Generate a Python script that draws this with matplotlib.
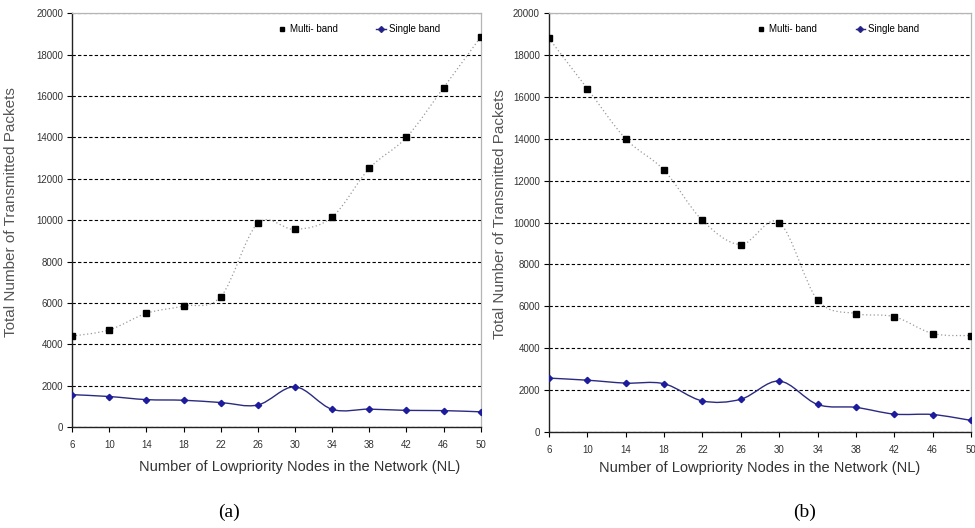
import matplotlib
matplotlib.use("Agg")
import matplotlib.pyplot as plt
from matplotlib.path import Path
from matplotlib.patches import PathPatch
from matplotlib.lines import Line2D
import numpy as np

plt.rcParams["font.family"] = ["Liberation Sans", "DejaVu Sans"]

NL = [6, 10, 14, 18, 22, 26, 30, 34, 38, 42, 46, 50]

# panel (a)
MULTI_A = [4400, 4700, 5500, 5850, 6300, 9850, 9550, 10150, 12500, 14000, 16400, 18850]
SINGLE_A = [1570, 1480, 1330, 1300, 1190, 1070, 1950, 860, 870, 810, 800, 740]
# panel (b)
MULTI_B = [18800, 16400, 14000, 12500, 10100, 8950, 10000, 6300, 5650, 5500, 4700, 4600]
SINGLE_B = [2570, 2470, 2330, 2300, 1480, 1560, 2430, 1310, 1170, 850, 830, 550]

YTICKS = list(range(0, 20001, 2000))


def smooth_path(x, y):
    # Catmull-Rom through the points, written as cubic Bezier segments
    p = np.column_stack([x, y]).astype(float)
    pts = np.vstack([p[0], p, p[-1]])
    verts = [tuple(p[0])]
    codes = [Path.MOVETO]
    for i in range(1, len(pts) - 2):
        p0, p1, p2, p3 = pts[i - 1], pts[i], pts[i + 1], pts[i + 2]
        c1 = p1 + (p2 - p0) / 6.0
        c2 = p2 - (p3 - p1) / 6.0
        verts += [tuple(c1), tuple(c2), tuple(p2)]
        codes += [Path.CURVE4] * 3
    return Path(verts, codes)


def draw_panel(ax, multi, single, legend_x, ylab_x, xlab_pos):
    xs = np.arange(len(NL))
    ax.add_patch(PathPatch(smooth_path(xs, multi), fill=False, ec="#9a9a9a",
                           lw=0.9, ls=(0, (1, 2)), zorder=2))
    ax.plot(xs, multi, ls="none", marker="s", ms=4, color="black", zorder=4)
    ax.add_patch(PathPatch(smooth_path(xs, single), fill=False, ec="#2a2a80",
                           lw=1.0, zorder=3))
    ax.plot(xs, single, ls="none", marker="D", ms=3.2, color="#1c1c9c", zorder=4)

    ax.set_xlim(0, len(NL) - 1)
    ax.set_ylim(0, 20000)
    ax.set_xticks(xs)
    ax.set_xticklabels([str(v) for v in NL], fontsize=7, color="#333333")
    ax.set_yticks(YTICKS)
    ax.set_yticklabels([str(v) for v in YTICKS], fontsize=7, color="#333333")
    ax.tick_params(axis="both", length=3.5, width=0.8)
    ax.tick_params(axis="x", pad=6)
    ax.tick_params(axis="y", pad=3)
    ax.yaxis.grid(True, color="black", ls=(0, (3, 2)), lw=0.8)
    ax.set_axisbelow(True)
    for s in ("left", "bottom"):
        ax.spines[s].set_color("#222222")
        ax.spines[s].set_linewidth(1.0)
    for s in ("top", "right"):
        ax.spines[s].set_color("#b5b5b5")
        ax.spines[s].set_linewidth(0.9)

    ax.set_xlabel("Number of Lowpriority Nodes in the Network (NL)", fontsize=10.5,
                  color="#333333")
    ax.xaxis.set_label_coords(*xlab_pos)
    ax.set_ylabel("Total Number of Transmitted Packets", fontsize=11,
                  color="#555555")
    ax.yaxis.set_label_coords(ylab_x, 0.52)

    handles = [Line2D([], [], ls="none", marker="s", ms=3.5, color="black"),
               Line2D([], [], color="#2a2a80", lw=1.0, marker="D", ms=3, mfc="#1c1c9c")]
    ax.legend(handles, ["Multi- band", "Single band"], ncol=2, frameon=False,
              loc="upper left", bbox_to_anchor=(legend_x, 0.995), fontsize=7,
              handlelength=1.0, handletextpad=0.3, columnspacing=4.0)


fig = plt.figure(figsize=(9.75, 5.28), dpi=100)
ax_a = fig.add_axes([0.074, 0.191, 0.419, 0.784])
ax_b = fig.add_axes([0.563, 0.182, 0.433, 0.793])

draw_panel(ax_a, MULTI_A, SINGLE_A, 0.48, -0.133, (0.557, -0.08))
draw_panel(ax_b, MULTI_B, SINGLE_B, 0.47, -0.10, (0.5, -0.07))

serif = ["Liberation Serif", "DejaVu Serif"]
fig.text(229 / 975, 1 - 512 / 528, "(a)", ha="center", va="center", fontsize=14, family=serif)
fig.text(805 / 975, 1 - 512 / 528, "(b)", ha="center", va="center", fontsize=14, family=serif)

fig.savefig("out.png", dpi=100)
